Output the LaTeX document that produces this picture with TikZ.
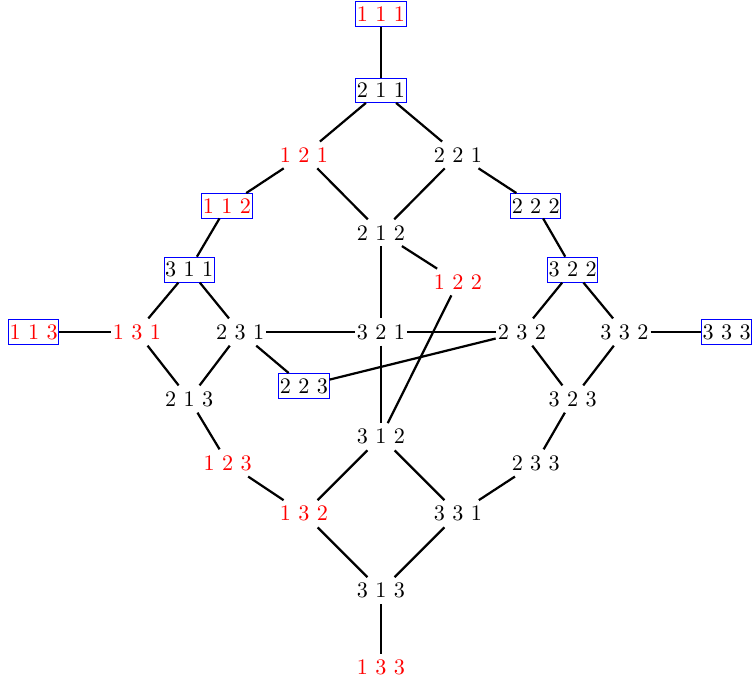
\documentclass[tikz,border=0pt]{standalone}
\usepackage[dvipsnames]{xcolor}

\begin{document}
\begin{tikzpicture}[-,x=1.22cm,y=1.22cm,line width=1pt,every node/.style={inner xsep=0.5pt,inner ysep=2.2pt},box node/.style={draw=blue,line width=0.4pt},red node/.style={text=red}]
            \useasboundingbox (-4.948,-4.571) rectangle (4.844,4.312);

            \node[box node,red node] (111) at (0,4.13) {1 1 1};
            \node[box node] (211) at (0,3.14) {2 1 1};
            \node[red node] (121) at (-1,2.30) {1 2 1};
            \node[] (221) at (1,2.30) {2 2 1};
            \node[box node,red node] (112) at (-2,1.64) {1 1 2};
            \node[box node] (222) at (2.01,1.64) {2 2 2};
            \node[] (212) at (0,1.29) {2 1 2};
            \node[red node] (122) at (1,0.65) {1 2 2};
            \node[box node] (311) at (-2.49,0.81) {3 1 1};
            \node[box node] (322) at (2.49,0.81) {3 2 2};

            \node[box node,red node] (113) at (-4.51,0) {1 1 3};
            \node[red node] (131) at (-3.17,0) {1 3 1};
            \node[] (231) at (-1.83,0) {2 3 1};
            \node[] (321) at (0,0) {3 2 1};
            \node[] (232) at (1.83,0) {2 3 2};
            \node[] (332) at (3.16,0) {3 3 2};
            \node[box node] (333) at (4.49,0) {3 3 3};

            \node[box node] (223) at (-1,-0.70) {2 2 3};
            \node[] (213) at (-2.49,-0.87) {2 1 3};
            \node[] (323) at (2.49,-0.87) {3 2 3};
            \node[] (312) at (0,-1.36) {3 1 2};
            \node[red node] (123) at (-1.99,-1.70) {1 2 3};
            \node[] (233) at (2.01,-1.70) {2 3 3};
            \node[red node] (132) at (-1,-2.36) {1 3 2};
            \node[] (331) at (1,-2.36) {3 3 1};
            \node[] (313) at (0,-3.36) {3 1 3};
            \node[red node] (133) at (0,-4.36) {1 3 3};

            \path[every node/.style={font=\small}]
                (111) edge (211)
                (211) edge (121)
                (211) edge (221)
                (121) edge (112)
                (121) edge (212)
                (221) edge (212)
                (221) edge (222)
                (212) edge (122)
                (212) edge (321)
                (112) edge (311)
                (222) edge (322)

                (311) edge (131)
                (311) edge (231)
                (322) edge (232)
                (322) edge (332)
                (113) edge (131)
                (332) edge (333)
                (231) edge (321)
                (321) edge (232)
                (231) edge (223)
                (223) edge (232)
                (122) edge (312)

                (131) edge (213)
                (231) edge (213)
                (232) edge (323)
                (332) edge (323)
                (321) edge (312)
                (213) edge (123)
                (323) edge (233)
                (312) edge (132)
                (312) edge (331)
                (123) edge (132)
                (233) edge (331)
                (132) edge (313)
                (331) edge (313)
                (313) edge (133)
                ;
        \end{tikzpicture}
\end{document}
